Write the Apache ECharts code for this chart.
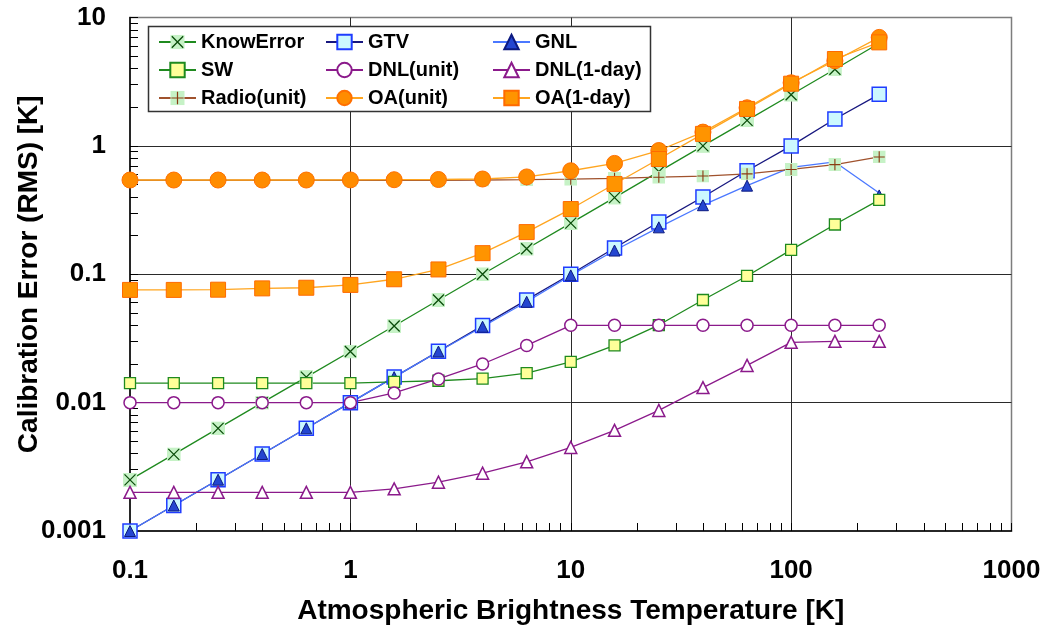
<!DOCTYPE html>
<html>
<head>
<meta charset="utf-8">
<title>Calibration Error vs Atmospheric Brightness Temperature</title>
<script src="https://cdn.jsdelivr.net/npm/echarts@6/dist/echarts.min.js"></script>
<style>
  html, body { margin: 0; padding: 0; background: #ffffff; }
  #chart { width: 1051px; height: 639px; }
</style>
</head>
<body>
<div id="chart"></div>
<script>
// Brightness temperatures [K] at which each error term was evaluated
const temps = [0.1, 0.158, 0.251, 0.398, 0.631, 1, 1.58, 2.51, 3.98, 6.31, 10, 15.8, 25.1, 39.8, 63.1, 100, 158, 251];

// RMS calibration error [K] of each contribution
const knowError = [0.0025, 0.00395, 0.0063, 0.01, 0.0158, 0.025, 0.0395, 0.063, 0.1, 0.158, 0.25, 0.395, 0.63, 1.0, 1.58, 2.5, 3.95, 6.3];
const gtv       = [0.001, 0.00158, 0.00251, 0.00398, 0.00631, 0.01, 0.0158, 0.0251, 0.0398, 0.0631, 0.1, 0.16, 0.255, 0.4, 0.64, 1.0, 1.62, 2.52];
const gnl       = [0.001, 0.00158, 0.00251, 0.00398, 0.00631, 0.01, 0.0158, 0.025, 0.039, 0.061, 0.098, 0.153, 0.232, 0.345, 0.49, 0.68, 0.75, 0.43];
const sw        = [0.0142, 0.0142, 0.0142, 0.0142, 0.0142, 0.0142, 0.0145, 0.0148, 0.0154, 0.017, 0.0208, 0.0279, 0.0402, 0.063, 0.097, 0.155, 0.244, 0.38];
const dnlUnit   = [0.01, 0.01, 0.01, 0.01, 0.01, 0.01, 0.0119, 0.0153, 0.02, 0.0279, 0.04, 0.04, 0.04, 0.04, 0.04, 0.04, 0.04, 0.04];
const dnlDay    = [0.002, 0.002, 0.002, 0.002, 0.002, 0.002, 0.00213, 0.0024, 0.00282, 0.00346, 0.00448, 0.00608, 0.0087, 0.0131, 0.0195, 0.0295, 0.03, 0.03];
const radio     = [0.54, 0.54, 0.54, 0.54, 0.54, 0.54, 0.54, 0.54, 0.542, 0.545, 0.55, 0.558, 0.57, 0.582, 0.605, 0.655, 0.715, 0.82];
const oaUnit    = [0.542, 0.542, 0.542, 0.542, 0.542, 0.543, 0.545, 0.547, 0.552, 0.573, 0.64, 0.73, 0.92, 1.28, 1.98, 3.1, 4.6, 7.0];
const oaDay     = [0.0755, 0.0755, 0.0758, 0.0776, 0.0785, 0.0826, 0.0914, 0.109, 0.146, 0.213, 0.322, 0.505, 0.79, 1.24, 1.94, 3.05, 4.75, 6.4];

// GNL is plotted with reduced markers at its three hottest points
const gnlSmallFrom = 100;

const FONT = "'Liberation Sans', Arial, Helvetica, sans-serif";

function svgSymbol(svg) {
  return 'image://data:image/svg+xml;charset=utf-8,' + encodeURIComponent(svg);
}
// Cross on a pale green tile
const crossTile = svgSymbol('<svg xmlns="http://www.w3.org/2000/svg" width="28" height="28" viewBox="0 0 28 28">' +
  '<rect x="0" y="0" width="28" height="28" fill="#c6f2c6"/>' +
  '<path d="M3 3L25 25M25 3L3 25" stroke="#0b4d0b" stroke-width="2.6" fill="none"/></svg>');
// Plus on a pale green tile
const plusTile = svgSymbol('<svg xmlns="http://www.w3.org/2000/svg" width="28" height="28" viewBox="0 0 28 28">' +
  '<rect x="0" y="0" width="28" height="28" fill="#c6f2c6"/>' +
  '<path d="M14 2V26M2 14H26" stroke="#8a3a12" stroke-width="2.4" fill="none"/></svg>');

function pairs(values) {
  return temps.map((t, i) => [t, values[i]]);
}

function lineSeries(name, values, opts) {
  return Object.assign({
    name: name,
    type: 'line',
    data: pairs(values),
    symbolKeepAspect: true,
    showSymbol: true,
    animation: false,
    emphasis: { disabled: true },
    clip: false
  }, opts);
}

const gnlData = temps.map((t, i) => t >= gnlSmallFrom
  ? { value: [t, gnl[i]], symbolSize: 6 }
  : [t, gnl[i]]);

const chart = echarts.init(document.getElementById('chart'), null, { renderer: 'canvas' });

const plainNumber = v => String(+v);
const labelStyle = { fontFamily: FONT, fontWeight: 'bold', color: '#000', fontSize: 26, formatter: plainNumber };
const legendCommon = {
  orient: 'vertical',
  top: 32,
  padding: 0,
  itemWidth: 37,
  itemHeight: 18,
  itemGap: 8,
  selectedMode: false,
  textStyle: { fontFamily: FONT, fontWeight: 'bold', color: '#000', fontSize: 20, padding: [0, 0, 0, 0] }
};

const option = {
  backgroundColor: '#ffffff',
  animation: false,
  grid: {
    left: 130, right: 39.5, top: 17.5, bottom: 108,
    outerBoundsMode: 'none',
    containLabel: false,
    show: true, borderColor: '#7d7d7d', borderWidth: 1.5, backgroundColor: 'transparent'
  },
  xAxis: {
    type: 'log', logBase: 10, min: 0.1, max: 1000,
    name: 'Atmospheric Brightness Temperature [K]',
    nameLocation: 'middle', nameGap: 66,
    nameTextStyle: { fontFamily: FONT, fontWeight: 'bold', color: '#000', fontSize: 28 },
    axisLine: { show: true, lineStyle: { color: '#000', width: 1.5 } },
    axisTick: { show: true, inside: true, length: 8, lineStyle: { color: '#000', width: 1 } },
    minorTick: { show: true, splitNumber: 9, length: 8, lineStyle: { color: '#000', width: 1 } },
    splitLine: { show: true, showMinLine: false, showMaxLine: false, lineStyle: { color: '#2a2a2a', width: 1 } },
    axisLabel: Object.assign({ margin: 27 }, labelStyle)
  },
  yAxis: {
    type: 'log', logBase: 10, min: 0.001, max: 10,
    name: 'Calibration Error (RMS) [K]',
    nameLocation: 'middle', nameGap: 87,
    nameMoveOverlap: false,
    nameTextStyle: { fontFamily: FONT, fontWeight: 'bold', color: '#000', fontSize: 28 },
    axisLine: { show: true, lineStyle: { color: '#000', width: 1.5 } },
    axisTick: { show: true, inside: true, length: 8, lineStyle: { color: '#000', width: 1 } },
    minorTick: { show: true, splitNumber: 9, length: 8, lineStyle: { color: '#000', width: 1 } },
    splitLine: { show: true, showMinLine: false, showMaxLine: false, lineStyle: { color: '#2a2a2a', width: 1 } },
    axisLabel: Object.assign({ margin: 24 }, labelStyle)
  },
  legend: [
    Object.assign({ left: 158, data: ['KnowError', 'SW', 'Radio(unit)'] }, legendCommon),
    Object.assign({ left: 325, data: ['GTV', 'DNL(unit)', 'OA(unit)'] }, legendCommon),
    Object.assign({ left: 492, data: ['GNL', 'DNL(1-day)', 'OA(1-day)'] }, legendCommon)
  ],
  graphic: [{
    type: 'rect',
    z: 3,
    shape: { x: 148.5, y: 26.5, width: 502, height: 85 },
    style: { fill: '#ffffff', stroke: '#333333', lineWidth: 1.5 }
  }],
  series: [
    lineSeries('KnowError', knowError, {
      symbol: crossTile, symbolSize: 14,
      lineStyle: { color: '#1f8a1f', width: 1.3 },
      itemStyle: { color: '#1f8a1f' }
    }),
    lineSeries('GTV', gtv, {
      symbol: 'rect', symbolSize: 14,
      lineStyle: { color: '#17177f', width: 1.3 },
      itemStyle: { color: '#ccf8ff', borderColor: '#1f3cff', borderWidth: 1.5 }
    }),
    Object.assign(lineSeries('GNL', gnl, {
      symbol: 'triangle', symbolSize: 11,
      lineStyle: { color: '#4b78ff', width: 1.3 },
      itemStyle: { color: '#2446d0', borderColor: '#0c1a80', borderWidth: 1 }
    }), { data: gnlData }),
    lineSeries('SW', sw, {
      symbol: 'rect', symbolSize: 11,
      lineStyle: { color: '#1f8a1f', width: 1.3 },
      itemStyle: { color: '#ffff99', borderColor: '#1f8a1f', borderWidth: 1.3 }
    }),
    lineSeries('DNL(unit)', dnlUnit, {
      symbol: 'circle', symbolSize: 12,
      lineStyle: { color: '#8b1a8b', width: 1.3 },
      itemStyle: { color: '#ffffff', borderColor: '#8b1a8b', borderWidth: 1.5 }
    }),
    lineSeries('DNL(1-day)', dnlDay, {
      symbol: 'triangle', symbolSize: 12,
      lineStyle: { color: '#8b1a8b', width: 1.3 },
      itemStyle: { color: '#ffffff', borderColor: '#8b1a8b', borderWidth: 1.5 }
    }),
    lineSeries('Radio(unit)', radio, {
      symbol: plusTile, symbolSize: 13,
      lineStyle: { color: '#a0522d', width: 1.3 },
      itemStyle: { color: '#a0522d' }
    }),
    lineSeries('OA(unit)', oaUnit, {
      symbol: 'circle', symbolSize: 16,
      lineStyle: { color: '#ffa51f', width: 1.3 },
      itemStyle: { color: '#ff8c00', borderColor: '#ff6f00', borderWidth: 1 }
    }),
    lineSeries('OA(1-day)', oaDay, {
      symbol: 'rect', symbolSize: 15,
      lineStyle: { color: '#ffa51f', width: 1.3 },
      itemStyle: { color: '#ff9400', borderColor: '#ff6a00', borderWidth: 1 }
    })
  ]
};

chart.setOption(option);
</script>
</body>
</html>
